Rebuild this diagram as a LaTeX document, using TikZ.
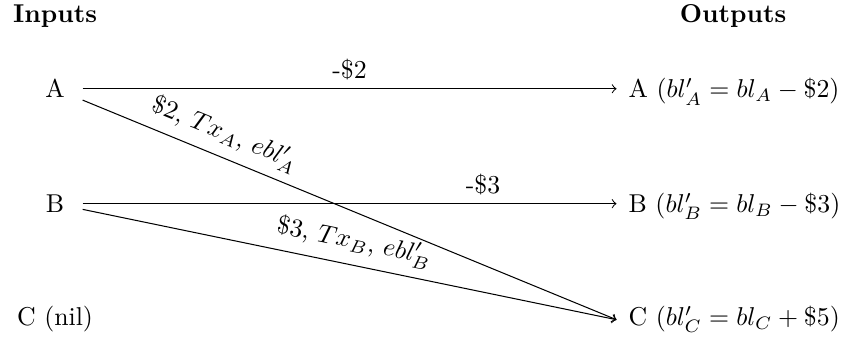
\documentclass[tikz,border=0pt]{standalone}
\begin{document}
\begin{tikzpicture}[>=to]
\tikzset{inp/.style={minimum width=21pt, anchor=base},
  outp/.style={inner xsep=4.5pt, anchor=base west},
  head/.style={font=\bfseries, anchor=base}}
\useasboundingbox (0,0) rectangle (11.50,-4.62);
\node[head] (inputs) at (0.75,-0.30) {Inputs};
\node[head] (outputs) at (9.99,-0.30) {Outputs};
\node[inp] (a) at (0.75,-1.335) {A};
\node[inp] (b) at (0.75,-2.895) {B};
\node[inp] (c) at (0.75,-4.44) {C (nil)};
\node[outp] (ao) at (8.40,-1.335) {A ($bl'_A = bl_A - \$2$)};
\node[outp] (bo) at (8.40,-2.895) {B ($bl'_B = bl_B - \$3$)};
\node[outp] (co) at (8.40,-4.44) {C ($bl'_C = bl_C + \$5$)};
\draw[->] (a) -- (a -| ao.west) node[midway, above] {-\$2};
\draw[->] (a) -- (co.west) node[near start, above, sloped] {\$2, $Tx_A$, $ebl'_A$};
\draw[->] (b) -- (b -| bo.west) node[near end, above] {-\$3};
\draw[->] (b) -- (co.west) node[midway, above, sloped] {\$3, $Tx_B$, $ebl'_B$};
\end{tikzpicture}
\end{document}
